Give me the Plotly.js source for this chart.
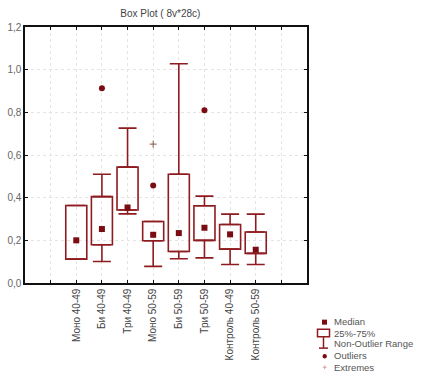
<!DOCTYPE html>
<html><head><meta charset="utf-8">
<script src="https://cdn.plot.ly/plotly-3.0.1.min.js"></script>
<style>html,body{margin:0;padding:0;background:#fff}#c{width:432px;height:380px}</style>
</head><body><div id="c"></div>
<script>
const categories = ['Моно 40-49','Би 40-49','Три 40-49','Моно 50-59','Би 50-59','Три 50-59','Контроль 40-49','Контроль 50-59'];
const medianVals = [0.200,0.253,0.354,0.226,0.234,0.259,0.228,0.156];
const q1Vals     = [0.112,0.179,0.342,0.198,0.148,0.200,0.159,0.139];
const q3Vals     = [0.363,0.405,0.543,0.288,0.510,0.362,0.274,0.239];
const whiskerLow = [0.112,0.101,0.324,0.078,0.114,0.118,0.087,0.087];
const whiskerHigh= [0.363,0.510,0.726,0.288,1.028,0.407,0.323,0.323];
const outlierCats = ['Би 40-49','Моно 50-59','Три 50-59'];
const outlierVals = [0.913,0.457,0.810];
const extremeCats = ['Моно 50-59'];
const extremeVals = [0.651];
const yTicks = [0,0.2,0.4,0.6,0.8,1.0,1.2];
const legendLabels = ['Median','25%-75%','Non-Outlier Range','Outliers','Extremes'];

const RED = '#8e1b1f', DARK = '#7a0c12', PINK = '#d2a0a6';
const FONT = '"Liberation Sans", Arial, sans-serif';
const pos = categories.map((c,i)=>i);
const idx = c => categories.indexOf(c);

const tickvals = [], ticktext = [];
for (let v=-2; v<=9; v++){ tickvals.push(v); ticktext.push(v>=0 && v<categories.length ? categories[v] : ''); }

const traces = [
  {type:'bar', x:pos, base:q1Vals, y:q3Vals.map((v,i)=>v-q1Vals[i]), width:0.82,
   marker:{color:'rgba(255,255,255,0)', line:{color:RED, width:1.6}}, hoverinfo:'skip', showlegend:false},
  {type:'scatter', mode:'markers', x:pos, y:q3Vals, marker:{size:1, opacity:0}, showlegend:false,
   error_y:{type:'data', symmetric:false, array:whiskerHigh.map((v,i)=>v-q3Vals[i]), arrayminus:pos.map(()=>0), width:9, thickness:1.6, color:RED}},
  {type:'scatter', mode:'markers', x:pos, y:q1Vals, marker:{size:1, opacity:0}, showlegend:false,
   error_y:{type:'data', symmetric:false, array:pos.map(()=>0), arrayminus:q1Vals.map((v,i)=>v-whiskerLow[i]), width:9, thickness:1.6, color:RED}},
  {type:'scatter', mode:'markers', x:pos, y:medianVals, marker:{symbol:'square', size:6, color:DARK}, showlegend:false},
  {type:'scatter', mode:'markers', x:outlierCats.map(idx), y:outlierVals, marker:{symbol:'circle', size:6, color:DARK}, showlegend:false},
  {type:'scatter', mode:'markers', x:extremeCats.map(idx), y:extremeVals, marker:{symbol:'cross-thin-open', size:5, line:{color:PINK, width:1}}, showlegend:false}
];

// pixel -> paper helpers for the custom legend
const L=25, R=307, T=27, B=283.3;
const px = x => (x-L)/(R-L);
const py = y => (B-y)/(B-T);

const shapes = [
  {type:'rect', xref:'paper', yref:'paper', x0:px(322), x1:px(327), y0:py(320), y1:py(325), fillcolor:DARK, line:{width:0}},
  {type:'rect', xref:'paper', yref:'paper', x0:px(317.5), x1:px(329.5), y0:py(329.5), y1:py(337), fillcolor:'white', line:{color:RED, width:1.5}},
  {type:'line', xref:'paper', yref:'paper', x0:px(323.5), x1:px(323.5), y0:py(337), y1:py(348.5), line:{color:RED, width:1.5}},
  {type:'line', xref:'paper', yref:'paper', x0:px(319), x1:px(328), y0:py(348.5), y1:py(348.5), line:{color:RED, width:1.5}},
  {type:'circle', xref:'paper', yref:'paper', x0:px(322.5), x1:px(326.9), y0:py(354.5), y1:py(358.9), fillcolor:DARK, line:{width:0}},
  {type:'line', xref:'paper', yref:'paper', x0:px(322.8), x1:px(326.6), y0:py(367.7), y1:py(367.7), line:{color:PINK, width:1}},
  {type:'line', xref:'paper', yref:'paper', x0:px(324.7), x1:px(324.7), y0:py(365.8), y1:py(369.6), line:{color:PINK, width:1}}
];
const legendY = [322, 333.7, 344.3, 356.3, 368.3];
const annotations = legendLabels.map((t,i)=>({text:t, xref:'paper', yref:'paper', x:px(332), y:py(legendY[i]),
  xanchor:'left', yanchor:'middle', showarrow:false, font:{family:FONT, size:9.5, color:'#555'}}));

const layout = {
  width:432, height:380, margin:{l:L, r:432-R, t:T, b:380-B},
  paper_bgcolor:'#fff', plot_bgcolor:'#fff', separators:', ', showlegend:false,
  font:{family:FONT, size:10, color:'#555'},
  title:{text:'Box Plot ( 8v*28c)', font:{family:FONT, size:10, color:'#444'}, xref:'paper', x:0.48, xanchor:'center', yref:'container', y:0.965, yanchor:'middle'},
  xaxis:{range:[-2,9], tickmode:'array', tickvals:tickvals, ticktext:ticktext, tickangle:-90,
    showgrid:true, gridcolor:'#e4e4e4', griddash:'dot', gridwidth:1, zeroline:false,
    showline:true, linecolor:'#111', linewidth:1.6, mirror:'ticks', ticks:'inside', ticklen:3, tickcolor:'#111',
    tickfont:{family:FONT, size:10, color:'#444'}, fixedrange:true},
  yaxis:{range:[0,1.2], tickmode:'array', tickvals:yTicks, tickformat:'.1f',
    showgrid:true, gridcolor:'#e4e4e4', griddash:'dot', gridwidth:1, zeroline:false,
    showline:true, linecolor:'#111', linewidth:1.6, mirror:'ticks', ticks:'inside', ticklen:3, tickcolor:'#111',
    tickfont:{family:FONT, size:10, color:'#666'}, fixedrange:true},
  shapes:shapes, annotations:annotations
};
Plotly.newPlot('c', traces, layout, {staticPlot:true, displayModeBar:false});
</script></body></html>
